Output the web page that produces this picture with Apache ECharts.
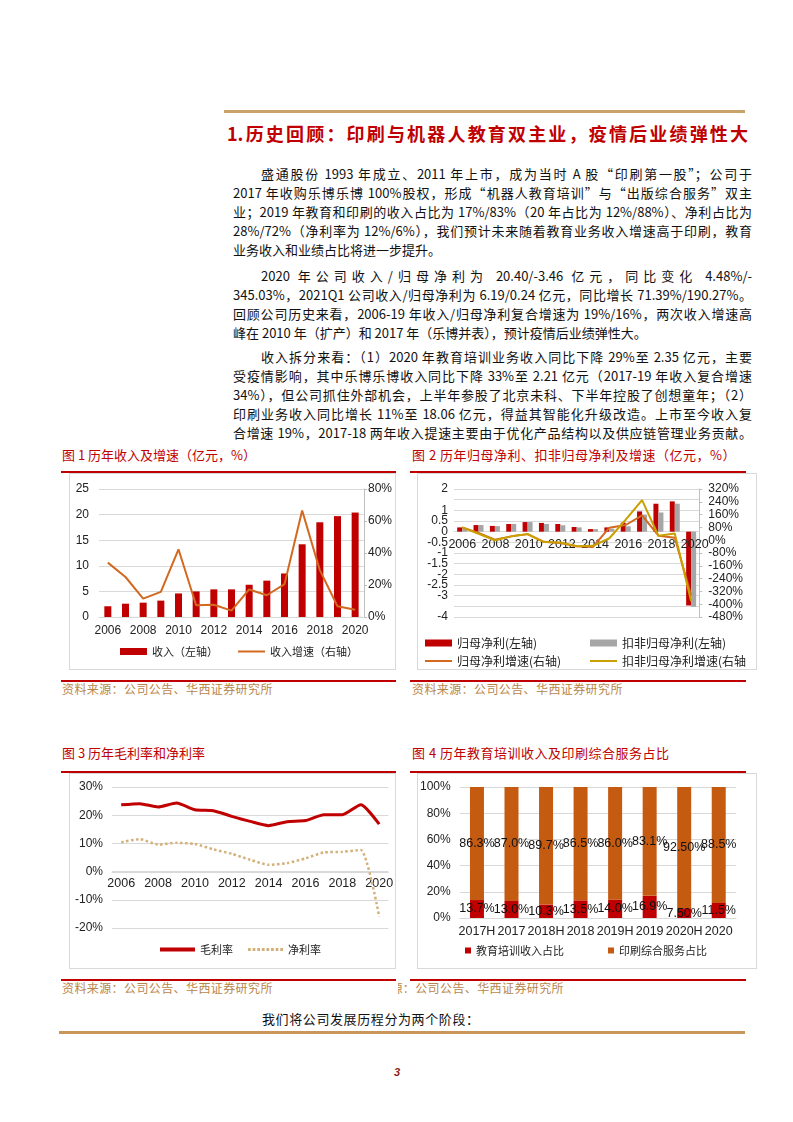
<!DOCTYPE html>
<html lang="zh-CN">
<head>
<meta charset="utf-8">
<script src="https://cdn.jsdelivr.net/npm/echarts@6/dist/echarts.min.js"></script>
<style>
html,body{margin:0;padding:0;background:#fff;}
#page{position:relative;width:793px;height:1122px;overflow:hidden;font-family:"Noto Sans CJK SC","Liberation Sans",sans-serif;}
.abs{position:absolute;}
.ln{position:absolute;left:233px;width:519px;height:19px;line-height:19px;font-size:13px;color:#111;text-align:justify;text-align-last:justify;white-space:nowrap;}
.ln.first{left:261px;width:491px;}
.ln.last{text-align-last:left;}
.cap{position:absolute;font-size:13px;color:#C00000;white-space:nowrap;line-height:16px;}
.src{position:absolute;font-size:12px;color:#B8864B;white-space:nowrap;line-height:14px;letter-spacing:0.4px;}
.rl{position:absolute;height:2px;background:#C00000;}
.box{position:absolute;border:1px solid #D9D9D9;box-sizing:border-box;}
</style>
</head>
<body>
<div id="page">
  <div class="abs" style="left:224px;top:110px;width:521px;height:3px;background:#C9A36A;"></div>
  <div class="abs" style="left:227px;top:122px;width:521px;font-size:18px;font-weight:bold;color:#C00000;text-align:justify;text-align-last:justify;white-space:nowrap;line-height:22px;">1.历史回顾：印刷与机器人教育双主业，疫情后业绩弹性大</div>

  <div class="ln first" style="top:164px;">盛通股份 1993 年成立、2011 年上市，成为当时 A 股“印刷第一股”；公司于</div>
  <div class="ln" style="top:183px;">2017 年收购乐博乐博 100%股权，形成“机器人教育培训”与“出版综合服务”双主</div>
  <div class="ln" style="top:202px;">业；2019 年教育和印刷的收入占比为 17%/83%（20 年占比为 12%/88%）、净利占比为</div>
  <div class="ln" style="top:221px;">28%/72%（净利率为 12%/6%），我们预计未来随着教育业务收入增速高于印刷，教育</div>
  <div class="ln last" style="top:240px;">业务收入和业绩占比将进一步提升。</div>

  <div class="ln first" style="top:266px;">2020 年公司收入/归母净利为 20.40/-3.46 亿元，同比变化 4.48%/-</div>
  <div class="ln" style="top:285px;">345.03%，2021Q1 公司收入/归母净利为 6.19/0.24 亿元，同比增长 71.39%/190.27%。</div>
  <div class="ln" style="top:304px;">回顾公司历史来看，2006-19 年收入/归母净利复合增速为 19%/16%，两次收入增速高</div>
  <div class="ln last" style="top:323px;">峰在 2010 年（扩产）和 2017 年（乐博并表），预计疫情后业绩弹性大。</div>

  <div class="ln first" style="top:347px;">收入拆分来看：（1）2020 年教育培训业务收入同比下降 29%至 2.35 亿元，主要</div>
  <div class="ln" style="top:366px;">受疫情影响，其中乐博乐博收入同比下降 33%至 2.21 亿元（2017-19 年收入复合增速</div>
  <div class="ln" style="top:385px;">34%），但公司抓住外部机会，上半年参股了北京未科、下半年控股了创想童年；（2）</div>
  <div class="ln" style="top:404px;">印刷业务收入同比增长 11%至 18.06 亿元，得益其智能化升级改造。上市至今收入复</div>
  <div class="ln" style="top:423px;">合增速 19%，2017-18 两年收入提速主要由于优化产品结构以及供应链管理业务贡献。</div>

  <!-- chart 1 frame -->
  <div class="cap" style="left:62px;top:447px;">图 1 历年收入及增速（亿元，%）</div>
  <div class="rl" style="left:61px;top:471px;width:335px;"></div>
  <div class="box" style="left:69px;top:473px;width:327px;height:197px;"></div>
  <div id="c1" class="abs" style="left:69px;top:474px;width:326px;height:196px;"></div>
  <div class="rl" style="left:61px;top:680px;width:335px;"></div>
  <div class="src" style="left:62px;top:682px;">资料来源：公司公告、华西证券研究所</div>

  <!-- chart 2 frame -->
  <div class="cap" style="left:412px;top:447px;letter-spacing:0.5px;">图 2 历年归母净利、扣非归母净利及增速（亿元，%）</div>
  <div class="rl" style="left:410px;top:471px;width:336px;"></div>
  <div class="box" style="left:417px;top:473px;width:340px;height:197px;"></div>
  <div id="c2" class="abs" style="left:417px;top:474px;width:329px;height:196px;"></div>
  <div class="rl" style="left:410px;top:680px;width:336px;"></div>
  <div class="src" style="left:412px;top:682px;">资料来源：公司公告、华西证券研究所</div>

  <!-- chart 3 frame -->
  <div class="cap" style="left:62px;top:745px;">图 3 历年毛利率和净利率</div>
  <div class="rl" style="left:61px;top:771px;width:335px;"></div>
  <div class="box" style="left:69px;top:773px;width:327px;height:196px;"></div>
  <div id="c3" class="abs" style="left:69px;top:774px;width:327px;height:195px;"></div>
  <div class="rl" style="left:61px;top:979px;width:335px;"></div>
  <div class="src" style="left:62px;top:981px;">资料来源：公司公告、华西证券研究所</div>

  <!-- chart 4 frame -->
  <div class="cap" style="left:412px;top:745px;letter-spacing:0.5px;">图 4 历年教育培训收入及印刷综合服务占比</div>
  <div class="rl" style="left:410px;top:771px;width:336px;"></div>
  <div class="box" style="left:417px;top:773px;width:340px;height:196px;"></div>
  <div id="c4" class="abs" style="left:417px;top:774px;width:329px;height:195px;"></div>
  <div class="rl" style="left:410px;top:979px;width:336px;"></div>
  <div class="abs" style="left:398px;top:981px;width:166px;height:14px;overflow:hidden;">
    <div class="src" style="right:0;top:0;">资料来源：公司公告、华西证券研究所</div>
  </div>

  <div class="abs" style="left:262px;top:1009px;font-size:13px;line-height:19px;color:#111;white-space:nowrap;letter-spacing:0.6px;">我们将公司发展历程分为两个阶段：</div>
  <div class="abs" style="left:59px;top:1031px;width:686px;height:3px;background:#C8955A;"></div>
  <div class="abs" style="left:394px;top:1066px;font-size:11px;font-weight:bold;font-style:italic;color:#8B1A1A;font-family:'Liberation Sans',sans-serif;">3</div>
</div>

<script>
// ---------- data ----------
const years = ['2006','2007','2008','2009','2010','2011','2012','2013','2014','2015','2016','2017','2018','2019','2020'];
const revenue = [2.1, 2.6, 2.8, 3.2, 4.6, 5.0, 5.4, 5.4, 6.3, 7.1, 8.5, 14.2, 18.5, 19.7, 20.4];
const revenueGrowth = [34, 25, 11.5, 15.7, 42.3, 7.3, 7.7, 4, 17.2, 13.6, 20.5, 66.6, 29.3, 6.7, 4.48];

const netProfit = [0.2, 0.31, 0.27, 0.36, 0.45, 0.41, 0.36, 0.22, 0.12, 0.2, 0.42, 0.95, 1.31, 1.42, -3.46];
const deductedProfit = [0.17, 0.31, 0.26, 0.36, 0.45, 0.36, 0.3, 0.2, 0.12, 0.14, 0.25, 0.8, 0.9, 1.31, -3.52];
const netProfitGrowth = [80, 45, 3, 24, 38, -10, -17, -38, -42, 78, 95, 155, 28, 15, -345];
const deductedGrowth = [80, 40, 0, 24, 38, -12, -14, -38, -35, 12, 128, 250, 28, 42, -382];

const grossMargin = [23.7, 24.1, 22.9, 24.3, 21.9, 21.6, 19.6, 17.8, 16.3, 17.7, 18.1, 20.2, 20.2, 23.7, 16.8];
const netMargin = [10.4, 11.5, 9.6, 10.2, 9.8, 7.9, 6.3, 4.2, 2.4, 3.0, 4.7, 6.8, 7.0, 7.7, -16.0];

const periods = ['2017H','2017','2018H','2018','2019H','2019','2020H','2020'];
const eduShare = [13.7, 13.0, 10.3, 13.5, 14.0, 16.9, 7.5, 11.5];
const printShare = [86.3, 87.0, 89.7, 86.5, 86.0, 83.1, 92.5, 88.5];
const eduLabels = ['13.7%','13.0%','10.3%','13.5%','14.0%','16.9%','7.50%','11.5%'];
const printLabels = ['86.3%','87.0%','89.7%','86.5%','86.0%','83.1%','92.50%','88.5%'];

// ---------- styles ----------
const FONT = '"Liberation Sans", Arial, sans-serif';
const CJK = '"Noto Sans CJK SC", sans-serif';
const axisText = {color:'#222', fontSize:12, fontFamily:FONT};
const gridLine = {show:true, lineStyle:{color:'#D9D9D9', width:1}};
const legendText = {color:'#222', fontSize:11, fontFamily:CJK};
const RED = '#C00000';
const DOTS = 'path://M0 0h3v3h-3zM5 0h3v3h-3zM10 0h3v3h-3zM15 0h3v3h-3zM20 0h3v3h-3zM25 0h3v3h-3zM30 0h3v3h-3zM35 0h3v3h-3z';

function mk(id){ return echarts.init(document.getElementById(id), null, {renderer:'canvas'}); }
function ax(extra){ return Object.assign({}, axisText, extra); }

// ---------- chart 1 ----------
mk('c1').setOption({
  animation:false,
  grid:{left:30, right:22, top:15, bottom:53},
  xAxis:{type:'category', data:years, axisTick:{show:false},
    axisLine:{show:true, lineStyle:{color:'#D9D9D9'}},
    axisLabel:ax({interval:1, margin:8})},
  yAxis:[
    {type:'value', min:0, max:25, interval:5, axisLabel:ax({margin:10, showMinLabel:true, showMaxLabel:true}),
     splitLine:gridLine, axisLine:{show:false}, axisTick:{show:false}},
    {type:'value', min:0, max:80, interval:20, position:'right',
     axisLabel:ax({formatter:'{value}%', margin:4, showMinLabel:true, showMaxLabel:true}),
     splitLine:{show:false}, axisLine:{show:true, lineStyle:{color:'#BFBFBF'}},
     axisTick:{show:true, length:3, lineStyle:{color:'#BFBFBF'}}}
  ],
  legend:[
    {left:51, top:172, padding:0, itemWidth:27, itemHeight:7, textStyle:legendText,
     data:[{name:'收入（左轴）', icon:'rect'}]},
    {left:169, top:172, padding:0, itemWidth:27, itemHeight:2, textStyle:legendText,
     data:[{name:'收入增速（右轴）', icon:'rect'}]}
  ],
  series:[
    {name:'收入（左轴）', type:'bar', data:revenue, barWidth:7, itemStyle:{color:RED}},
    {name:'收入增速（右轴）', type:'line', yAxisIndex:1, data:revenueGrowth, symbol:'none',
     lineStyle:{color:'#D2691E', width:2}, itemStyle:{color:'#D2691E'}}
  ]
});

// ---------- chart 2 ----------
const lg2 = Object.assign({}, legendText, {fontSize:12});
const g2 = {left:37, right:43, top:15, bottom:53};
mk('c2').setOption({
  animation:false,
  grid:[g2, Object.assign({}, g2)],
  xAxis:[
    {type:'category', gridIndex:0, data:years, axisTick:{show:false},
     axisLine:{show:true, onZero:true, lineStyle:{color:'#D9D9D9'}},
     axisLabel:{show:false}},
    {type:'category', gridIndex:1, data:years, axisTick:{show:false}, offset:-85, z:3,
     axisLine:{show:false, onZero:false},
     axisLabel:ax({fontSize:12.5, interval:1, margin:6})}
  ],
  yAxis:[
    {type:'value', gridIndex:0, min:-4, max:2, interval:0.5,
     axisLabel:ax({fontSize:12, lineHeight:9, margin:6, showMinLabel:true, showMaxLabel:true, hideOverlap:false}),
     splitLine:gridLine, axisLine:{show:false}, axisTick:{show:false}},
    {type:'value', gridIndex:0, min:-480, max:320, interval:80, position:'right',
     axisLabel:ax({fontSize:12, lineHeight:10, formatter:'{value}%', margin:9, showMinLabel:true, showMaxLabel:true, hideOverlap:false}),
     splitLine:{show:false}, axisLine:{show:true, lineStyle:{color:'#BFBFBF'}},
     axisTick:{show:true, length:3, lineStyle:{color:'#BFBFBF'}}},
    {type:'value', gridIndex:1, min:-4, max:2, show:false}
  ],
  legend:[
    {left:8, top:163, padding:0, itemWidth:27, itemHeight:7, textStyle:lg2,
     data:[{name:'归母净利(左轴)', icon:'rect'}]},
    {left:173, top:163, padding:0, itemWidth:27, itemHeight:7, textStyle:lg2,
     data:[{name:'扣非归母净利(左轴)', icon:'rect'}]},
    {left:8, top:181, padding:0, itemWidth:27, itemHeight:2, textStyle:lg2,
     data:[{name:'归母净利增速(右轴)', icon:'rect'}]},
    {left:173, top:181, padding:0, itemWidth:27, itemHeight:2, textStyle:lg2,
     data:[{name:'扣非归母净利增速(右轴)', icon:'rect'}]}
  ],
  series:[
    {name:'归母净利(左轴)', type:'bar', data:netProfit, barWidth:5, barGap:'0%', itemStyle:{color:RED}},
    {name:'扣非归母净利(左轴)', type:'bar', data:deductedProfit, barWidth:5, barGap:'0%', itemStyle:{color:'#A6A6A6'}},
    {name:'归母净利增速(右轴)', type:'line', yAxisIndex:1, data:netProfitGrowth, symbol:'none', z:4,
     lineStyle:{color:'#D2691E', width:2}, itemStyle:{color:'#D2691E'}},
    {name:'扣非归母净利增速(右轴)', type:'line', yAxisIndex:1, data:deductedGrowth, symbol:'none', z:4,
     lineStyle:{color:'#C9A000', width:2}, itemStyle:{color:'#C9A000'}}
  ]
});

// ---------- chart 3 ----------
mk('c3').setOption({
  animation:false,
  grid:{left:43, right:4, top:13, bottom:41},
  xAxis:{type:'category', data:years, axisTick:{show:false}, offset:-56,
    axisLine:{show:true, onZero:false, lineStyle:{color:'#D9D9D9'}},
    axisLabel:ax({fontSize:12.5, interval:1, margin:5})},
  yAxis:{type:'value', min:-20, max:30, interval:10,
    axisLabel:ax({formatter:'{value}%', margin:9, showMinLabel:true, showMaxLabel:true}),
    splitLine:gridLine, axisLine:{show:false}, axisTick:{show:false}},
  legend:[
    {left:91, top:170, padding:0, itemWidth:35, itemHeight:4, textStyle:legendText,
     data:[{name:'毛利率', icon:'rect'}]},
    {left:179, top:170, padding:0, itemWidth:35, itemHeight:3, textStyle:legendText,
     data:[{name:'净利率', icon:DOTS}]}
  ],
  series:[
    {name:'毛利率', type:'line', data:grossMargin, symbol:'none', smooth:0.2,
     lineStyle:{color:RED, width:3}, itemStyle:{color:RED}},
    {name:'净利率', type:'line', data:netMargin, symbol:'none', smooth:0.2,
     lineStyle:{color:'#D4B07A', width:2.5, type:'dotted'}, itemStyle:{color:'#D4B07A'}}
  ]
});

// ---------- chart 4 ----------
mk('c4').setOption({
  animation:false,
  grid:{left:37, right:10, top:13, bottom:51},
  xAxis:{type:'category', data:periods, axisTick:{show:false},
    axisLine:{show:true, lineStyle:{color:'#D9D9D9'}},
    axisLabel:ax({fontSize:12.5, interval:0, margin:7})},
  yAxis:{type:'value', min:0, max:100, interval:20,
    axisLabel:ax({formatter:'{value}%', margin:9, showMinLabel:true, showMaxLabel:true}),
    splitLine:gridLine, axisLine:{show:false}, axisTick:{show:false}},
  legend:{left:48, top:171, padding:0, itemWidth:6, itemHeight:6, itemGap:44, textStyle:legendText,
    data:[{name:'教育培训收入占比', icon:'rect'}, {name:'印刷综合服务占比', icon:'rect'}]},
  series:[
    {name:'教育培训收入占比', type:'bar', stack:'s', data:eduShare, barWidth:14, itemStyle:{color:RED},
     label:{show:true, position:'inside', color:'#111', fontSize:12.5, fontFamily:FONT,
       formatter:function(p){return eduLabels[p.dataIndex];}}},
    {name:'印刷综合服务占比', type:'bar', stack:'s', data:printShare, barWidth:14, itemStyle:{color:'#C55A11'},
     label:{show:true, position:'inside', color:'#111', fontSize:12.5, fontFamily:FONT,
       formatter:function(p){return printLabels[p.dataIndex];}}}
  ]
});
</script>
</body>
</html>
